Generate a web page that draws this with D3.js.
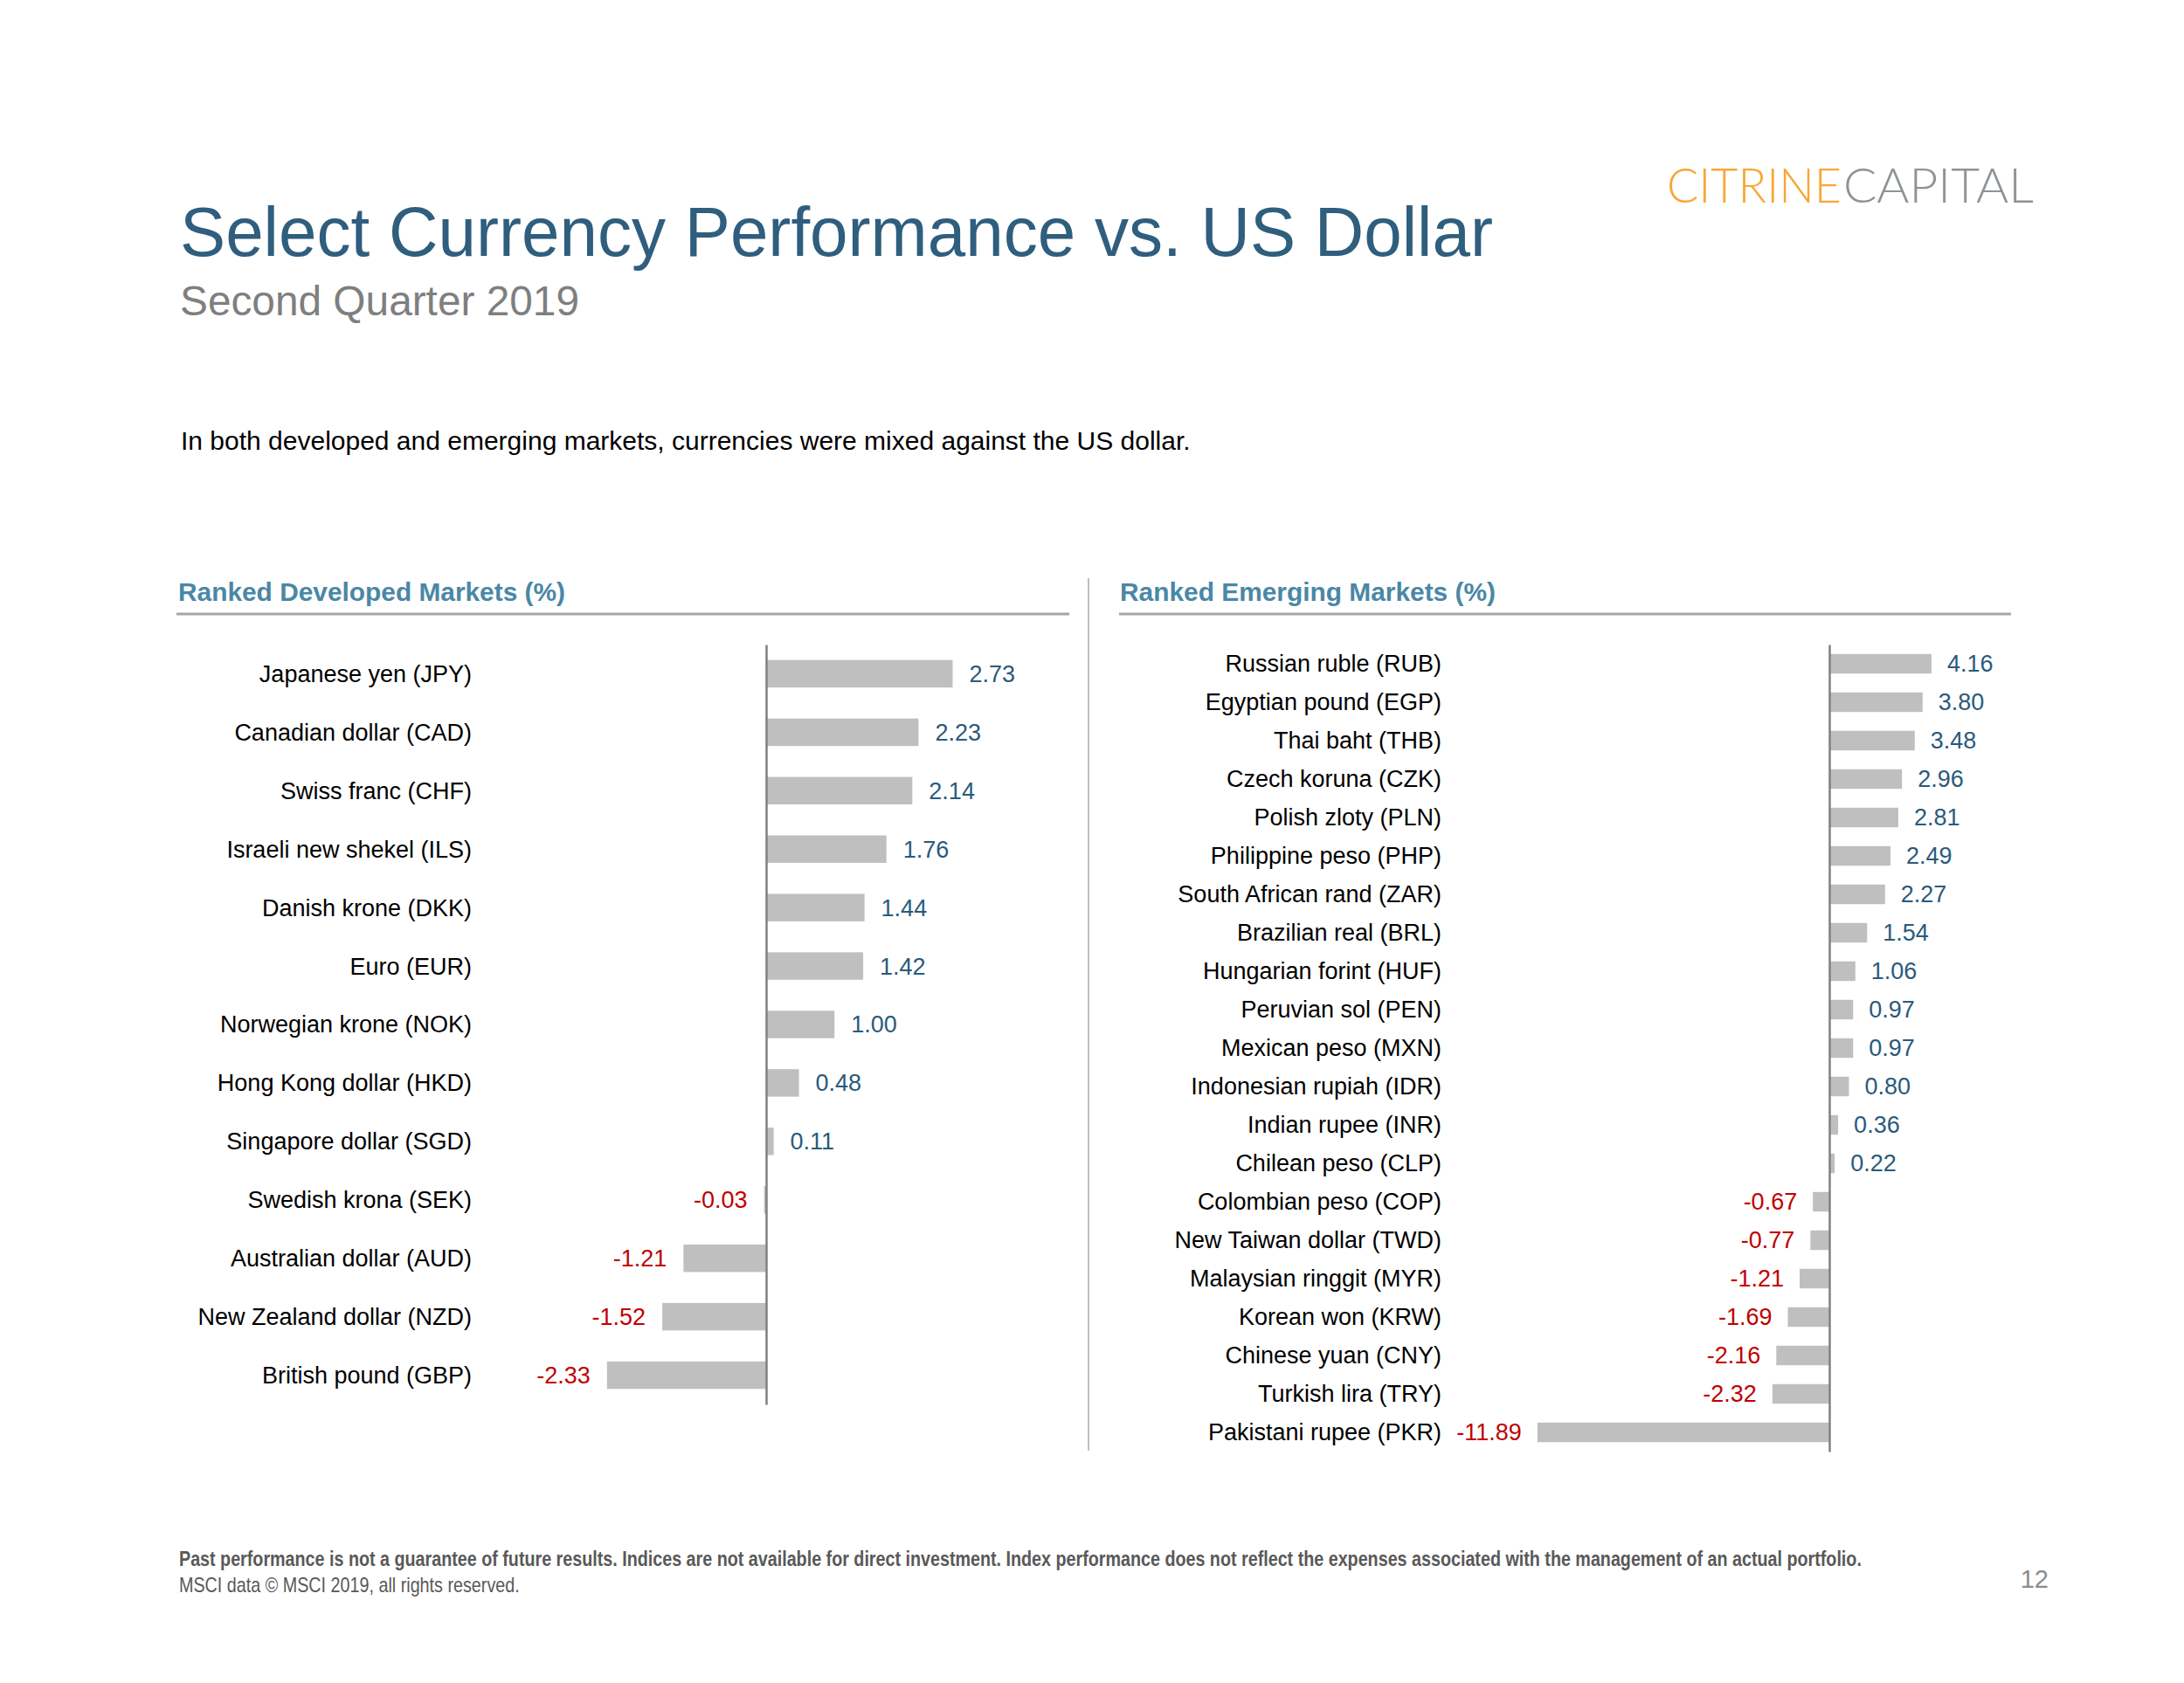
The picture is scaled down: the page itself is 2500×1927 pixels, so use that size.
<!DOCTYPE html>
<html>
<head>
<meta charset="utf-8">
<script src="https://cdn.jsdelivr.net/npm/d3@7"></script>
<style>
html, body { margin: 0; padding: 0; background: #ffffff; }
svg { display: block; }
</style>
</head>
<body>
<script>
// ---------------- DATA ----------------
const devCategories = [
  "Japanese yen (JPY)", "Canadian dollar (CAD)", "Swiss franc (CHF)",
  "Israeli new shekel (ILS)", "Danish krone (DKK)", "Euro (EUR)",
  "Norwegian krone (NOK)", "Hong Kong dollar (HKD)", "Singapore dollar (SGD)",
  "Swedish krona (SEK)", "Australian dollar (AUD)", "New Zealand dollar (NZD)",
  "British pound (GBP)"
];
const devValues = [2.73, 2.23, 2.14, 1.76, 1.44, 1.42, 1.00, 0.48, 0.11, -0.03, -1.21, -1.52, -2.33];

const emCategories = [
  "Russian ruble (RUB)", "Egyptian pound (EGP)", "Thai baht (THB)",
  "Czech koruna (CZK)", "Polish zloty (PLN)", "Philippine peso (PHP)",
  "South African rand (ZAR)", "Brazilian real (BRL)", "Hungarian forint (HUF)",
  "Peruvian sol (PEN)", "Mexican peso (MXN)", "Indonesian rupiah (IDR)",
  "Indian rupee (INR)", "Chilean peso (CLP)", "Colombian peso (COP)",
  "New Taiwan dollar (TWD)", "Malaysian ringgit (MYR)", "Korean won (KRW)",
  "Chinese yuan (CNY)", "Turkish lira (TRY)", "Pakistani rupee (PKR)"
];
const emValues = [4.16, 3.80, 3.48, 2.96, 2.81, 2.49, 2.27, 1.54, 1.06, 0.97, 0.97, 0.80, 0.36, 0.22,
  -0.67, -0.77, -1.21, -1.69, -2.16, -2.32, -11.89];

const titleText = "Select Currency Performance vs. US Dollar";
const subtitleText = "Second Quarter 2019";
const introText = "In both developed and emerging markets, currencies were mixed against the US dollar.";
const devHeader = "Ranked Developed Markets (%)";
const emHeader = "Ranked Emerging Markets (%)";
const footnote1 = "Past performance is not a guarantee of future results. Indices are not available for direct investment. Index performance does not reflect the expenses associated with the management of an actual portfolio.";
const footnote2 = "MSCI data \u00A9 MSCI 2019, all rights reserved.";
const pageNumber = "12";
const logoParts = ["CITRINE", "CAPITAL"];

// ---------------- LAYOUT ----------------
const W = 2500, H = 1927;
const FONT = "'Liberation Sans', Arial, Helvetica, sans-serif";
const C = {
  title: "#2f5e7e",
  subtitle: "#7f7f7f",
  header: "#4a87a6",
  rule: "#a6a6a6",
  divider: "#bfbfbf",
  bar: "#bfbfbf",
  axis: "#808080",
  pos: "#2a5a7c",
  neg: "#c00000",
  text: "#000000",
  foot: "#595959",
  logo1: "#f6a833",
  logo2: "#8e9396"
};

const svg = d3.select("body").append("svg")
  .attr("width", W).attr("height", H)
  .attr("viewBox", `0 0 ${W} ${H}`)
  .style("font-family", FONT);

svg.append("rect").attr("width", W).attr("height", H).attr("fill", "#fff");

function fit(sel, w) {
  sel.attr("textLength", w).attr("lengthAdjust", "spacingAndGlyphs");
  return sel;
}
// horizontal squeeze via transform so that the rendered box matches the target width
function squeeze(sel, x, y, w) {
  const natural = sel.node().getComputedTextLength();
  const s = natural > 0 ? w / natural : 1;
  sel.attr("x", 0).attr("y", 0)
    .attr("transform", `translate(${x},${y}) scale(${s},1)`);
  return sel;
}

// Title block
fit(svg.append("text").attr("x", 206).attr("y", 293)
  .attr("font-size", 79).attr("fill", C.title).text(titleText), 1503);
fit(svg.append("text").attr("x", 206).attr("y", 361)
  .attr("font-size", 48).attr("fill", C.subtitle).text(subtitleText), 457);
svg.append("text").attr("x", 207).attr("y", 515)
  .attr("font-size", 30).attr("fill", C.text).text(introText);

// Logo
const logoFont = "Lato, 'Open Sans', " + FONT;
fit(svg.append("text").attr("x", 1908).attr("y", 232)
  .attr("font-family", logoFont).attr("font-weight", 300)
  .attr("font-size", 55).attr("fill", C.logo1).text(logoParts[0]), 200);
fit(svg.append("text").attr("x", 2110).attr("y", 232)
  .attr("font-family", logoFont).attr("font-weight", 300)
  .attr("font-size", 55).attr("fill", C.logo2).text(logoParts[1]), 218);

// Section headers and rules
fit(svg.append("text").attr("x", 204).attr("y", 688)
  .attr("font-size", 29).attr("font-weight", "bold").attr("fill", C.header).text(devHeader), 443);
fit(svg.append("text").attr("x", 1282).attr("y", 688)
  .attr("font-size", 29).attr("font-weight", "bold").attr("fill", C.header).text(emHeader), 430);

svg.append("line").attr("x1", 202).attr("x2", 1224).attr("y1", 703).attr("y2", 703)
  .attr("stroke", C.rule).attr("stroke-width", 3);
svg.append("line").attr("x1", 1281).attr("x2", 2302).attr("y1", 703).attr("y2", 703)
  .attr("stroke", C.rule).attr("stroke-width", 3);

// Vertical divider between panels
svg.append("line").attr("x1", 1246).attr("x2", 1246).attr("y1", 662).attr("y2", 1661)
  .attr("stroke", C.divider).attr("stroke-width", 2);

// ---------------- PANELS ----------------
const fmt2 = d3.format(".2f");
const fmt = v => fmt2(v).replace("\u2212", "-");

function drawPanel(cfg) {
  const g = svg.append("g");
  const y = d3.scaleBand()
    .domain(cfg.categories)
    .range(cfg.yRange)
    .paddingInner(cfg.pad)
    .paddingOuter(cfg.pad / 2);
  const ext = d3.extent(cfg.values);
  const x = d3.scaleLinear()
    .domain(ext)
    .range([cfg.zero + ext[0] * cfg.ppu, cfg.zero + ext[1] * cfg.ppu]);

  const rows = cfg.categories.map((c, i) => ({ c, v: cfg.values[i] }));

  g.selectAll("rect.bar").data(rows).join("rect")
    .attr("class", "bar")
    .attr("x", d => Math.min(x(0), x(d.v)))
    .attr("width", d => Math.abs(x(d.v) - x(0)))
    .attr("y", d => y(d.c))
    .attr("height", y.bandwidth())
    .attr("fill", C.bar);

  // zero axis line
  const axis = d3.axisLeft(y).tickSize(0).tickFormat("");
  const ag = g.append("g").attr("transform", `translate(${x(0)},0)`).call(axis);
  ag.select(".domain").attr("stroke", C.axis).attr("stroke-width", 2.5);

  // category labels
  g.selectAll("text.cat").data(rows).join("text")
    .attr("class", "cat")
    .attr("x", cfg.labelX)
    .attr("y", d => y(d.c) + y.bandwidth() / 2)
    .attr("dy", "0.35em")
    .attr("text-anchor", "end")
    .attr("font-size", 27)
    .attr("fill", C.text)
    .text(d => d.c);

  // value labels
  g.selectAll("text.val").data(rows).join("text")
    .attr("class", "val")
    .attr("x", d => d.v >= 0 ? x(d.v) + cfg.gap : x(d.v) - cfg.gap)
    .attr("y", d => y(d.c) + y.bandwidth() / 2)
    .attr("dy", "0.35em")
    .attr("text-anchor", d => d.v >= 0 ? "start" : "end")
    .attr("font-size", 27)
    .attr("fill", d => d.v >= 0 ? C.pos : C.neg)
    .text(d => fmt(d.v));
}

drawPanel({
  categories: devCategories, values: devValues,
  yRange: [738, 1608], pad: 0.53,
  zero: 877, ppu: 78.2, labelX: 540, gap: 19
});

drawPanel({
  categories: emCategories, values: emValues,
  yRange: [738, 1662], pad: 0.49,
  zero: 2094, ppu: 28.1, labelX: 1650, gap: 18
});

// ---------------- FOOTER ----------------
const narrow = "'Liberation Sans Narrow', 'Arial Narrow', " + FONT;
squeeze(svg.append("text")
  .attr("font-family", narrow).attr("font-weight", "bold")
  .attr("font-size", 23).attr("fill", C.foot).text(footnote1), 205, 1793, 1928);
squeeze(svg.append("text")
  .attr("font-family", narrow)
  .attr("font-size", 23).attr("fill", C.foot).text(footnote2), 205, 1823, 390);
svg.append("text").attr("x", 2345).attr("y", 1818)
  .attr("text-anchor", "end")
  .attr("font-size", 29).attr("fill", "#8c8c8c").text(pageNumber);
</script>
</body>
</html>
